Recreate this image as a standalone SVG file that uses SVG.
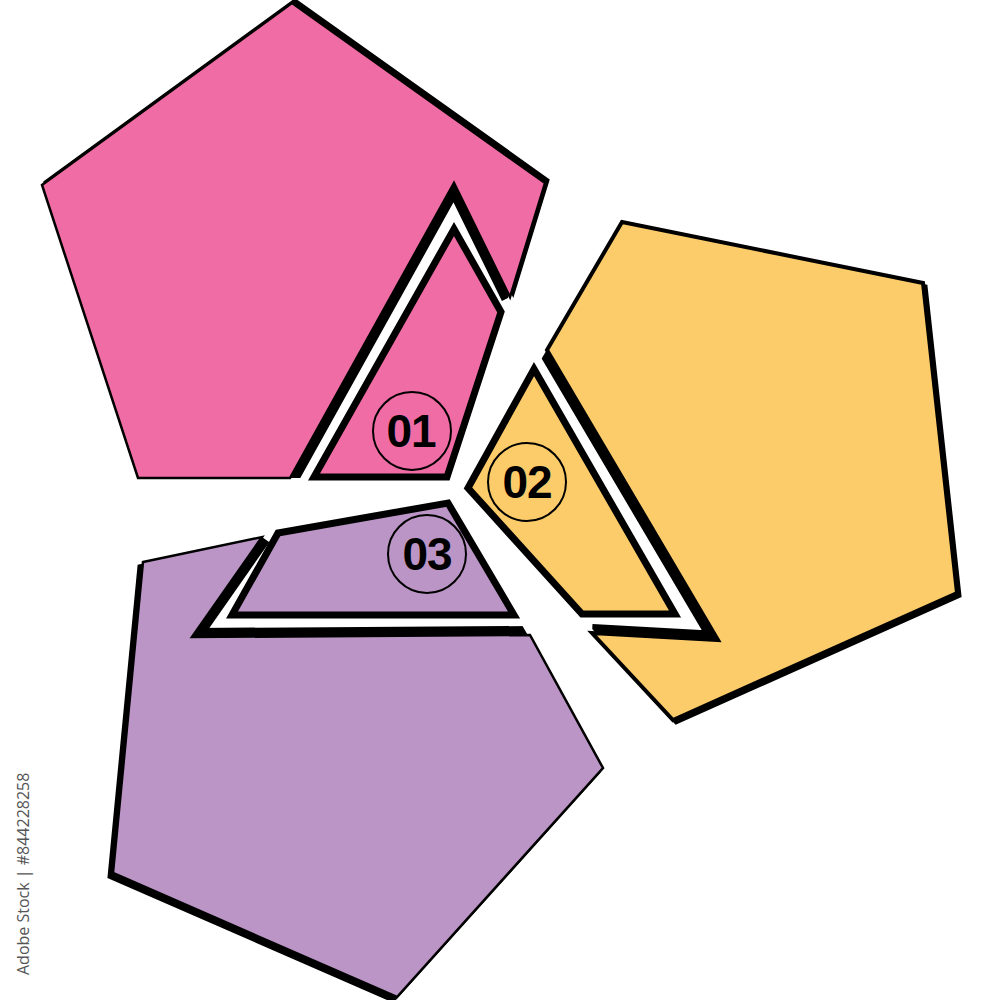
<svg xmlns="http://www.w3.org/2000/svg" width="1000" height="1000" viewBox="0 0 1000 1000">
<defs>
<clipPath id="cp1"><path d="M292,3 L545,183 L450,478 L138,478 L42,185 Z"/></clipPath>
<clipPath id="cp2"><path d="M622,222 L923,283 L957,593 L673,720 L466,487 Z"/></clipPath>
<clipPath id="cp3"><path d="M143,562 L450,498 L603,768 L397,997 L113,873 Z"/></clipPath>
</defs>
<style>
.sh{fill:#000;stroke:#000;stroke-width:3;stroke-linejoin:miter}
.pk{fill:#F06CA5}
.or{fill:#FCCC6A}
.pu{fill:#BB95C6}
.ln{stroke:#000;stroke-width:2.5;stroke-linejoin:miter}
.notch{fill:none;stroke:#000;stroke-width:18;stroke-linejoin:miter;stroke-miterlimit:10}
.pc{stroke:#000;stroke-width:7;stroke-linejoin:miter}
.ring{fill:none;stroke:#000;stroke-width:2}
.num{font-family:"Liberation Sans",Arial,sans-serif;font-weight:bold;font-size:46px;fill:#000;text-anchor:middle;letter-spacing:-1px}
.wm{font-family:"Open Sans","DejaVu Sans",sans-serif;font-size:16px;fill:#555}
</style>
<rect width="1000" height="1000" fill="#fff"/>
<g id="node-01">
<path class="sh" transform="translate(3,-3)" d="M292,3 L545,183 L510,297 L454,183 L290,478 L138,478 L42,185 Z"/>
<path class="notch" clip-path="url(#cp1)" d="M510,297 L454,183 L290,478"/>
<path class="pk ln" d="M292,3 L545,183 L510,297 L454,183 L290,478 L138,478 L42,185 Z"/>
<path class="pk pc" d="M454,229 L501,312 L447,477 L314,477 Z"/>
<circle class="ring" cx="412" cy="431" r="39"/>
<text class="num" x="411" y="447">01</text>
</g>
<g id="node-02">
<path class="sh" transform="translate(3,3)" d="M622,222 L923,283 L957,593 L673,720 L592,633 L718,640 L547,350 Z"/>
<path class="notch" clip-path="url(#cp2)" d="M547,350 L718,640 L592,633"/>
<path class="or ln" style="stroke-width:4" d="M622,222 L923,283 L957,593 L673,720 L592,633 L718,640 L547,350 Z"/>
<path class="or pc" d="M534,369 L675,614 L582,614 L468,488 Z"/>
<circle class="ring" cx="527" cy="482" r="39"/>
<text class="num" x="527" y="498">02</text>
</g>
<g id="node-03">
<path class="sh" transform="translate(-4,4)" d="M143,562 L262,537 L192,637 L530,635 L603,768 L397,997 L113,873 Z"/>
<path class="notch" clip-path="url(#cp3)" d="M262,537 L192,637 L530,635"/>
<path class="pu ln" d="M143,562 L262,537 L192,637 L530,635 L603,768 L397,997 L113,873 Z"/>
<path class="pu pc" d="M278,533 L448,503 L514,615 L232,615 Z"/>
<circle class="ring" cx="427" cy="554" r="39"/>
<text class="num" x="427" y="570">03</text>
</g>
<g id="connectors"></g>
<text class="wm" transform="translate(29,975) rotate(-90)">Adobe Stock | #844228258</text>
</svg>
